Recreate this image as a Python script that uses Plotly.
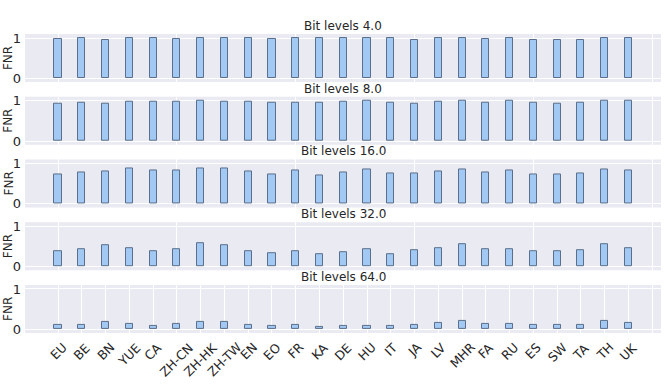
import plotly.graph_objects as go
from plotly.subplots import make_subplots

languages = ['EU', 'BE', 'BN', 'YUE', 'CA', 'ZH-CN', 'ZH-HK', 'ZH-TW', 'EN', 'EO',
             'FR', 'KA', 'DE', 'HU', 'IT', 'JA', 'LV', 'MHR', 'FA', 'RU', 'ES',
             'SW', 'TA', 'TH', 'UK']

bit_levels = [4.0, 8.0, 16.0, 32.0, 64.0]

fnr_4 = [0.97, 0.99, 0.96, 0.99, 0.99, 0.97, 0.99, 0.99, 0.99, 0.97, 0.99, 0.99, 0.99,
         0.99, 0.99, 0.96, 0.99, 0.99, 0.97, 0.99, 0.96, 0.96, 0.96, 0.99, 0.99]
fnr_8 = [0.93, 0.96, 0.93, 0.98, 0.97, 0.97, 0.99, 0.98, 0.97, 0.96, 0.96, 0.95, 0.97,
         0.99, 0.96, 0.93, 0.97, 0.99, 0.95, 0.99, 0.96, 0.93, 0.95, 0.99, 0.99]
fnr_16 = [0.73, 0.79, 0.81, 0.87, 0.82, 0.82, 0.88, 0.88, 0.80, 0.73, 0.83, 0.70, 0.79,
          0.85, 0.75, 0.75, 0.80, 0.86, 0.78, 0.83, 0.74, 0.72, 0.76, 0.85, 0.82]
fnr_32 = [0.37, 0.44, 0.52, 0.45, 0.38, 0.44, 0.57, 0.52, 0.38, 0.34, 0.38, 0.32, 0.36,
          0.43, 0.32, 0.40, 0.45, 0.55, 0.42, 0.44, 0.38, 0.39, 0.41, 0.55, 0.45]
fnr_64 = [0.10, 0.10, 0.18, 0.13, 0.08, 0.13, 0.18, 0.19, 0.11, 0.08, 0.10, 0.06, 0.08,
          0.08, 0.09, 0.11, 0.16, 0.20, 0.13, 0.13, 0.10, 0.10, 0.11, 0.20, 0.16]

series = [fnr_4, fnr_8, fnr_16, fnr_32, fnr_64]

text_color = '#262626'
font = 'DejaVu Sans'
positions = list(range(len(languages)))

fig = make_subplots(rows=5, cols=1, shared_xaxes=True, vertical_spacing=0.049,
                    subplot_titles=['Bit levels %s' % b for b in bit_levels])

for i, vals in enumerate(series):
    fig.add_trace(go.Bar(x=positions, y=vals, width=0.3,
                         marker=dict(color='#a1c9f4', line=dict(color='#5b6f8a', width=1)),
                         showlegend=False), row=i + 1, col=1)
    fig.update_yaxes(range=[-0.09, 1.1], tickvals=[0, 1], ticktext=['0', '1'],
                     showgrid=True, gridcolor='white', gridwidth=1, zeroline=False,
                     automargin=False, ticklabelstandoff=3,
                     tickfont=dict(size=13, color=text_color),
                     row=i + 1, col=1)
    if i < 4:
        grid_ticks = [0, 5, 10, 15, 20, 25]
    else:
        grid_ticks = positions + [25]
    fig.update_xaxes(range=[-1.39, 25.37], tickvals=grid_ticks, showticklabels=False,
                     showgrid=True, gridcolor='white', gridwidth=1, zeroline=False,
                     automargin=False, row=i + 1, col=1)

# subplot titles
for ann in fig.layout.annotations:
    ann.font = dict(size=12, color=text_color, family=font)
    ann.yshift = -1

# y axis labels
for i in range(5):
    yname = 'y domain' if i == 0 else 'y%d domain' % (i + 1)
    fig.add_annotation(x=0, y=0.5, xref='paper', yref=yname, text='FNR',
                       showarrow=False, textangle=-90, xanchor='center', yanchor='middle',
                       xshift=-17, font=dict(size=12, color=text_color, family=font))

# rotated category labels, centred on each bar like matplotlib's rotation=45
for pos, lang in zip(positions, languages):
    fig.add_annotation(x=pos, y=0, xref='x5', yref='y5 domain', text=lang,
                       showarrow=False, textangle=-45, xanchor='center', yanchor='top',
                       yshift=-4, font=dict(size=12.5, color=text_color, family=font))

fig.update_layout(
    width=664, height=388,
    margin=dict(l=25, r=3, t=34, b=55),
    plot_bgcolor='#eaeaf2', paper_bgcolor='white',
    font=dict(family=font, color=text_color, size=12),
    bargap=0,
)

# drop the browser's default 8px body margin so the figure sits at the corner
fig.write_html("out.html", config={'displayModeBar': False},
               post_script="document.body.style.margin = '0px';")
